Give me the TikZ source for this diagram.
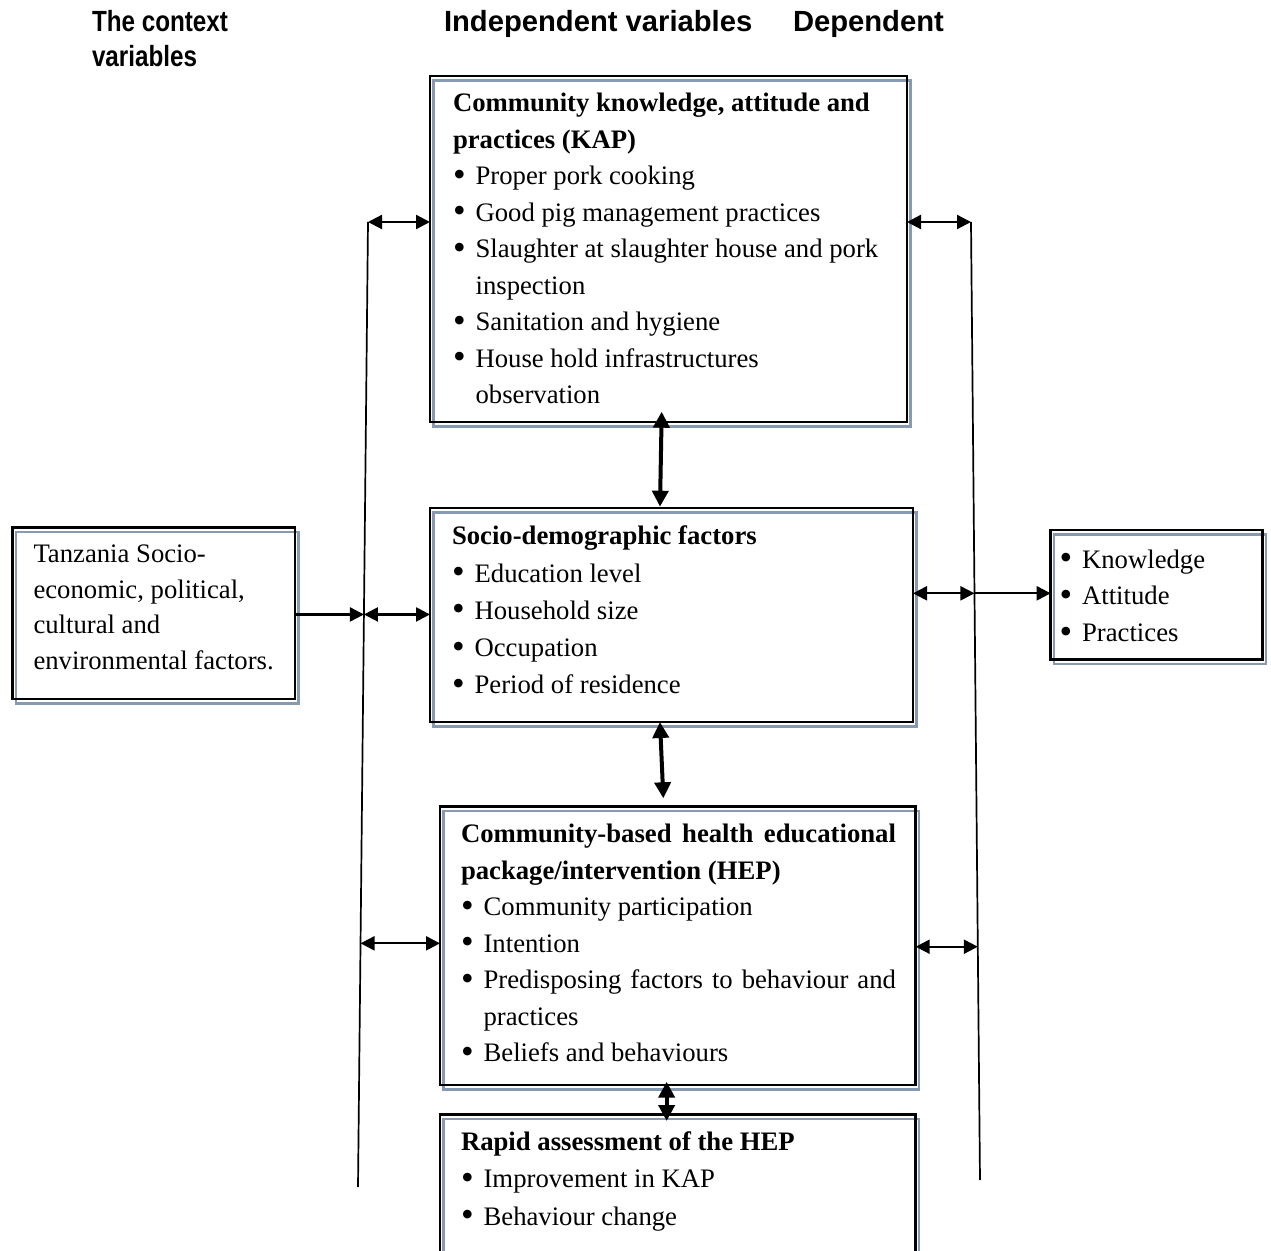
\documentclass[tikz,border=0pt]{standalone}
\usepackage{fontspec}
\setmainfont{Liberation Serif}
\newfontfamily\headfont{Liberation Sans}
\newfontfamily\narrowheadfont[FakeStretch=0.83]{Liberation Sans}
\usetikzlibrary{arrows.meta,fit,calc,backgrounds}
\definecolor{shadowblue}{RGB}{136,154,178}
\newlength\bhang
\setlength\bhang{11.3pt}
% list bullet: a slightly enlarged round dot
\newcommand\bdot{\raisebox{-0.06em}{\scalebox{1.35}{\textbullet}}}
% bullet item with hanging indent for wrapped lines
\newcommand\bitem[1]{\noindent\makebox[\bhang][l]{\bdot}\hangindent=\bhang\hangafter=1 #1\par}
\newcommand\bhead[1]{\noindent\textbf{#1}\par}
\begin{document}
\begin{tikzpicture}[x=0.5pt,y=-0.5pt,
  box/.style={draw=black,line width=1.25pt,inner sep=0pt,outer sep=0pt,rectangle},
  shadowline/.style={draw=shadowblue,line width=1.1pt},
  btxt/.style={anchor=base west,inner sep=0pt,outer sep=0pt,align=justify,text width=250pt},
  head/.style={anchor=base west,inner sep=0pt,outer sep=0pt,align=justify,text width=170pt,
    font=\headfont\bfseries\fontsize{14.6}{17.5}\selectfont},
  rail/.style={line width=0.85pt},
  dbl/.style={{Triangle[length=7pt,width=7pt]}-{Triangle[length=7pt,width=7pt]},line width=1.1pt},
  sgl/.style={-{Triangle[length=7pt,width=7pt]},line width=1.1pt},
  vdbl/.style={{Triangle[length=8pt,width=8pt]}-{Triangle[length=8pt,width=8pt]},line width=2pt}]
\useasboundingbox (0,0) rectangle (1271,1251);

% column headings
\node[head,font=\narrowheadfont\bfseries\fontsize{14.6}{17.5}\selectfont] (hctx) at (92,31.7) {The context\newline variables};
\node[head] (hind) at (444,31.7) {Independent variables};
\node[head] (hdep) at (793,31.7) {Dependent};

% boxes
\node[box,fit={(430,76) (907,422)}] (kap) {};
\node[box,fit={(430,508) (913,722)}] (soc) {};
\node[box,fit={(440,806.7) (915.7,1085)}] (hep) {};
\node[box,fit={(440,1114.3) (915.7,1300)}] (rap) {};
\node[box,fit={(12.7,527.3) (295,699)}] (ctx) {};
\node[box,fit={(1050.7,530) (1262.3,659.3)}] (dep) {};

% offset outlines behind the boxes
\begin{pgfonlayer}{background}
\foreach \b in {kap,soc,hep,rap,ctx,dep}
  \draw[shadowline] ([shift={(3.5,4.5)}]\b.north west) rectangle ([shift={(3.5,4.5)}]\b.south east);
\end{pgfonlayer}

% box texts
\node[btxt,font=\fontsize{13.35}{18.25}\selectfont] (kapt) at (453,111.7)
  {\bhead{Community knowledge, attitude and\newline practices (KAP)}%
   \bitem{Proper pork cooking}%
   \bitem{Good pig management practices}%
   \bitem{Slaughter at slaughter house and pork\newline inspection}%
   \bitem{Sanitation and hygiene}%
   \bitem{House hold infrastructures\newline observation}};
\node[btxt,font=\fontsize{13.35}{18.6}\selectfont] (soct) at (452,545)
  {\bhead{Socio-demographic factors}%
   \bitem{Education level}%
   \bitem{Household size}%
   \bitem{Occupation}%
   \bitem{Period of residence}};
\node[btxt,text width=217.5pt,font=\fontsize{13.35}{18.25}\selectfont] (hept) at (461,842.7)
  {\bhead{Community-based health educational\linebreak package/intervention (HEP)}%
   \bitem{Community participation}%
   \bitem{Intention}%
   \bitem{Predisposing factors to behaviour and\linebreak practices}%
   \bitem{Beliefs and behaviours}};
\node[btxt,font=\fontsize{13.35}{18.6}\selectfont] (rapt) at (461,1150.7)
  {\bhead{Rapid assessment of the HEP}%
   \bitem{Improvement in KAP}%
   \bitem{Behaviour change}};
\node[btxt,text width=130pt,font=\fontsize{13.35}{17.8}\selectfont] (ctxt) at (33.5,562.7)
  {Tanzania Socio-\newline economic, political,\newline cultural and\newline environmental factors.};
\node[btxt,text width=95pt,font=\fontsize{13.35}{18.35}\selectfont] (dept) at (1059.5,568.3)
  {\bitem{Knowledge}\bitem{Attitude}\bitem{Practices}};

% side rails
\coordinate (LT) at (368,222);
\coordinate (LB) at (358,1187);
\coordinate (RT) at (971,222);
\coordinate (RB) at (980,1180);
\draw[rail] (LT) -- (LB);
\draw[rail] (RT) -- (RB);
\coordinate (Lm) at ($(LT)!0.4067!(LB)$);
\coordinate (Lh) at ($(LT)!0.7475!(LB)$);
\coordinate (Rm) at ($(RT)!0.3876!(RB)$);
\coordinate (Rh) at ($(RT)!0.7565!(RB)$);

% horizontal links
\draw[dbl] (LT) -- (kap.west |- LT);
\draw[dbl] (kap.east |- RT) -- (RT);
\draw[sgl] (ctx.east |- Lm) -- (Lm);
\draw[dbl] (Lm) -- (soc.west |- Lm);
\draw[dbl] (soc.east |- Rm) -- (Rm);
\draw[sgl] (Rm) -- (dep.west |- Rm);
\draw[dbl] (Lh) -- (hep.west |- Lh);
\draw[dbl] (hep.east |- Rh) -- (Rh);

% vertical links between the boxes
\draw[vdbl] ([shift={(-6.8,-10.3)}]kap.south) -- ([shift={(-11.5,-1.3)}]soc.north);
\draw[vdbl] ([shift={(-11.5,0)}]soc.south) -- ([shift={(-14.5,-8.4)}]hep.north);
\draw[vdbl] ([shift={(-11.2,-3.3)}]hep.south) -- ([shift={(-11.2,6.7)}]rap.north);
\end{tikzpicture}
\end{document}
